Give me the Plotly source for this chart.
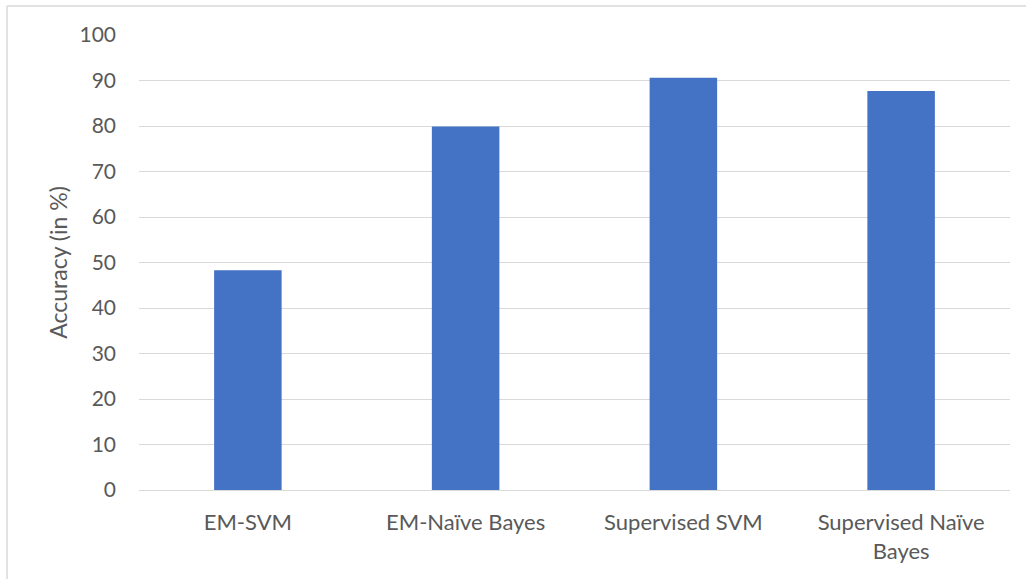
import plotly.graph_objects as go

categories = ["EM-SVM", "EM-Naïve Bayes", "Supervised SVM", "Supervised Naïve Bayes"]
tick_text = ["EM-SVM", "EM-Naïve Bayes", "Supervised SVM", "Supervised Naïve<br>Bayes"]
accuracy = [48.3, 79.9, 90.6, 87.7]
y_ticks = [0, 10, 20, 30, 40, 50, 60, 70, 80, 90, 100]

W, H = 1027, 579
L, R, T, B = 139, 17, 35, 89
pw, ph = W - L - R, H - T - B

def px_to_paper_x(px):
    return (px - L) / pw

def px_to_paper_y(py):
    return (H - B - py) / ph

FONT = "Lato, Liberation Sans, Arial, sans-serif"
TXT = "#595959"
GRID = "#d9d9d9"

fig = go.Figure(go.Bar(
    x=categories, y=accuracy,
    marker=dict(color="#4472C4", line=dict(width=0)),
))

fig.update_layout(
    width=W, height=H,
    margin=dict(l=L, r=R, t=T, b=B, pad=0),
    paper_bgcolor="white", plot_bgcolor="white",
    bargap=0.69,
    showlegend=False,
    font=dict(family=FONT, size=21, color=TXT),
    xaxis=dict(
        tickmode="array", tickvals=categories, ticktext=tick_text,
        showgrid=False, showline=True, linecolor=GRID, linewidth=1,
        ticks="", ticklabelstandoff=13,
        tickfont=dict(family=FONT, size=22, color=TXT),
    ),
    yaxis=dict(
        range=[0, 100], tickvals=y_ticks,
        showgrid=True, gridcolor=GRID, gridwidth=1,
        zeroline=False, showline=False, ticks="",
        ticklabelstandoff=22,
        tickfont=dict(family=FONT, size=21, color=TXT),
        title=dict(text="Accuracy (in %)", standoff=5,
                   font=dict(family=FONT, size=23, color=TXT)),
    ),
    shapes=[
        dict(type="line", xref="paper", yref="paper",
             x0=px_to_paper_x(7), x1=px_to_paper_x(7),
             y0=px_to_paper_y(6), y1=px_to_paper_y(600),
             line=dict(color=GRID, width=1.5)),
        dict(type="line", xref="paper", yref="paper",
             x0=px_to_paper_x(7), x1=px_to_paper_x(1026),
             y0=px_to_paper_y(6), y1=px_to_paper_y(6),
             line=dict(color=GRID, width=1.5)),
    ],
)

fig.write_html("out.html")
